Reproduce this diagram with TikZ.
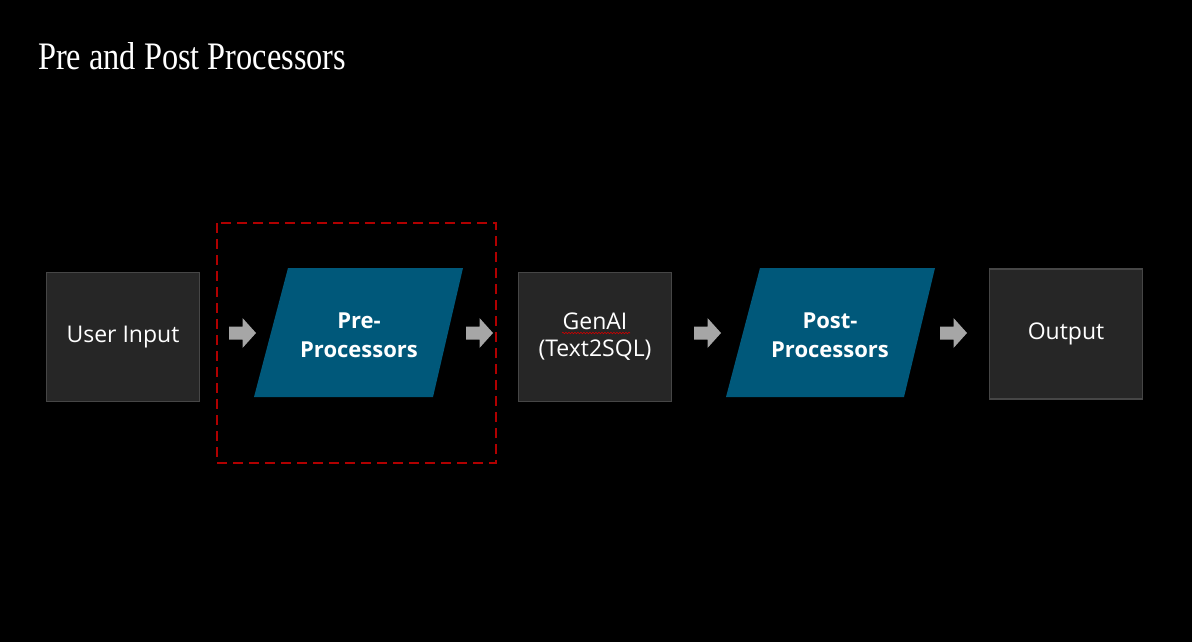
\documentclass[tikz,border=0pt]{standalone}
\usepackage{fontspec}
\setmainfont{Open Sans}
\newfontfamily\titlefont{Liberation Serif}
\usetikzlibrary{decorations.pathmorphing}
\definecolor{boxfill}{HTML}{262626}
\definecolor{boxline}{HTML}{464646}
\definecolor{procblue}{HTML}{00587A}
\definecolor{dashred}{HTML}{B00000}
\definecolor{arrowgray}{HTML}{A6A6A6}
\tikzset{
  darkbox/.style={draw=boxline, line width=1.5pt, fill=boxfill, minimum width=153pt, minimum height=129pt, inner sep=0pt, text=white, font=\fontsize{23}{27}\selectfont, align=center},
  proclabel/.style={text=white, font=\bfseries\fontsize{22}{29}\selectfont, align=center, inner sep=0pt},
  arrowfill/.style={fill=arrowgray, draw=none}
}
\begin{document}
\begin{tikzpicture}[x=1pt,y=-1pt]
\useasboundingbox (0,0) rectangle (1192,642);
\fill[black] (0,0) rectangle (1192,642);
% title
\node[anchor=base west, inner sep=0pt, text=white] (title) at (38,70) {\resizebox{308pt}{27pt}{\titlefont Pre and Post Processors}};
% dashed highlight
\draw[dashred, line width=2pt, dash pattern=on 10pt off 6pt] (217,223) rectangle (496,463);
% boxes
\node[darkbox] (ui) at (123,337) {User Input};
\fill[procblue] (288,268) -- (463,268) -- (433,397) -- (254,397) -- cycle;
\node[proclabel] (pre) at (359,335) {Pre-\\Processors};
\node[darkbox] (gen) at (595,337) {GenAI\\(Text2SQL)};
\draw[red!80!black, line width=0.6pt, decorate, decoration={snake, amplitude=0.8pt, segment length=3pt}] (562,333) -- (630,333);
\fill[procblue] (760,268) -- (935,268) -- (904,397) -- (726,397) -- cycle;
\node[proclabel] (post) at (830,335) {Post-\\Processors};
\node[darkbox, minimum height=130pt] (out) at (1066,334) {Output};
% block arrows
\foreach \nm/\cx in {a1/242.5, a2/479.5, a3/707.5, a4/953.5}{
  \coordinate (\nm) at (\cx,333);
  \fill[arrowfill, shift={(\nm)}] (-13.5,-6.5) -- (0,-6.5) -- (0,-15) -- (13.5,0) -- (0,15) -- (0,6.5) -- (-13.5,6.5) -- cycle;
}
\end{tikzpicture}
\end{document}
